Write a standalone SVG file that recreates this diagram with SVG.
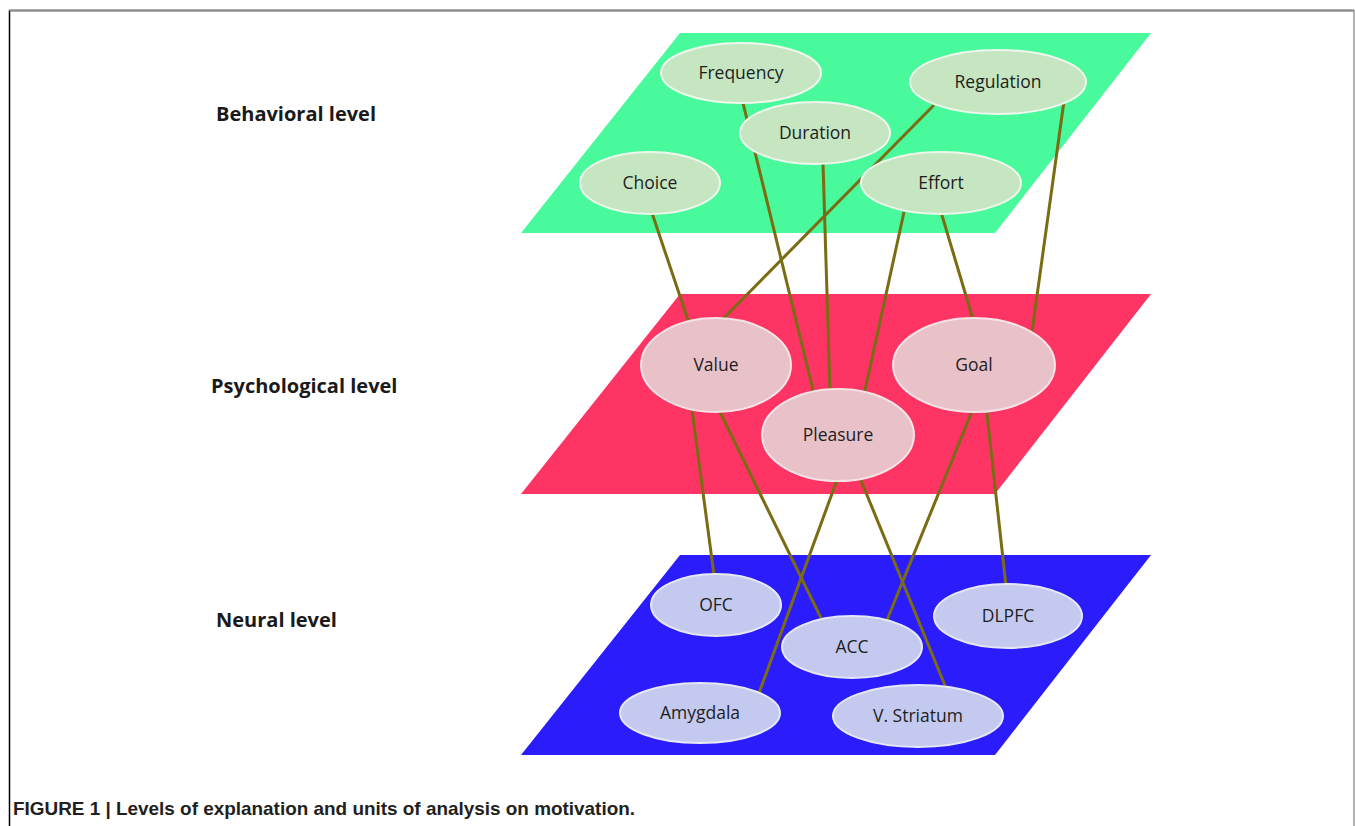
<svg xmlns="http://www.w3.org/2000/svg" width="1355" height="826" viewBox="0 0 1355 826">
<style>
.lvl{font-family:"Open Sans","Noto Sans","DejaVu Sans",sans-serif;font-weight:bold;font-size:20px;fill:#1a1a1a}
.lbl{font-family:"Open Sans","Noto Sans","DejaVu Sans",sans-serif;font-size:17.5px;fill:#1e1e1e;text-anchor:middle}
.b{fill:#c5e6c1;stroke:#eef7ec;stroke-width:2}
.p{fill:#e9c2c9;stroke:#f6e3e6;stroke-width:2}
.n{fill:#c4caef;stroke:#e6e8f8;stroke-width:2}
.c line{stroke:#7b6c14;stroke-width:3;stroke-linecap:butt}
.cap{font-family:"Liberation Sans",Arial,sans-serif;font-weight:bold;font-size:19px;fill:#231f20}
</style>
<rect width="1355" height="826" fill="#fff"/>
<path d="M9.5 826 V10.5 H1354" fill="none" stroke="#000" stroke-width="1.5"/>
<line x1="9" y1="10.5" x2="1354" y2="10.5" stroke="#888" stroke-width="1.5"/>
<line x1="1354" y1="10" x2="1354" y2="826" stroke="#999" stroke-width="1.5"/>

<polygon id="plane-behavioral" points="680,33 1151,33 995,233 521,233" fill="#48fa9b"/>
<polygon id="plane-psychological" points="680,294 1151,294 995,494 521,494" fill="#fe3465"/>
<polygon id="plane-neural" points="680,555 1151,555 995,755 521,755" fill="#2a1cfb"/>

<text class="lvl" x="216" y="121">Behavioral level</text>
<text class="lvl" x="211" y="393">Psychological level</text>
<text class="lvl" x="216" y="627">Neural level</text>

<g id="connectors" class="c">
<line x1="652" y1="213" x2="690" y2="326"/>
<line x1="743" y1="103" x2="814" y2="394"/>
<line x1="934" y1="105" x2="716" y2="326"/>
<line x1="823" y1="163" x2="830" y2="392"/>
<line x1="904" y1="212" x2="864" y2="395"/>
<line x1="941" y1="212" x2="975" y2="326"/>
<line x1="1064" y1="101" x2="1031" y2="339"/>
<line x1="692" y1="410" x2="714" y2="575"/>
<line x1="718" y1="408" x2="822" y2="620"/>
<line x1="837" y1="480" x2="759" y2="693"/>
<line x1="860" y1="478" x2="946" y2="688"/>
<line x1="975" y1="404" x2="887" y2="620"/>
<line x1="986" y1="405" x2="1006" y2="586"/>
</g>

<g id="frequency"><ellipse class="b" cx="741" cy="73" rx="80" ry="30"/><text class="lbl" x="741" y="79">Frequency</text></g>
<g id="regulation"><ellipse class="b" cx="998" cy="82" rx="88" ry="32"/><text class="lbl" x="998" y="88">Regulation</text></g>
<g id="duration"><ellipse class="b" cx="815" cy="133" rx="75" ry="31"/><text class="lbl" x="815" y="139">Duration</text></g>
<g id="choice"><ellipse class="b" cx="650" cy="183" rx="70" ry="31"/><text class="lbl" x="650" y="189">Choice</text></g>
<g id="effort"><ellipse class="b" cx="941" cy="183" rx="80" ry="31"/><text class="lbl" x="941" y="189">Effort</text></g>

<g id="value"><ellipse class="p" cx="716" cy="365" rx="75" ry="47"/><text class="lbl" x="716" y="371">Value</text></g>
<g id="goal"><ellipse class="p" cx="974" cy="365" rx="81" ry="47"/><text class="lbl" x="974" y="371">Goal</text></g>
<g id="pleasure"><ellipse class="p" cx="838" cy="435" rx="76" ry="46"/><text class="lbl" x="838" y="441">Pleasure</text></g>

<g id="ofc"><ellipse class="n" cx="716" cy="605" rx="65" ry="31"/><text class="lbl" x="716" y="611">OFC</text></g>
<g id="dlpfc"><ellipse class="n" cx="1008" cy="616" rx="74" ry="32"/><text class="lbl" x="1008" y="622">DLPFC</text></g>
<g id="acc"><ellipse class="n" cx="852" cy="647" rx="70" ry="31"/><text class="lbl" x="852" y="653">ACC</text></g>
<g id="amygdala"><ellipse class="n" cx="700" cy="713" rx="80" ry="30"/><text class="lbl" x="700" y="719">Amygdala</text></g>
<g id="vstriatum"><ellipse class="n" cx="918" cy="716" rx="85" ry="31"/><text class="lbl" x="918" y="722">V. Striatum</text></g>

<text class="cap" x="13" y="815" textLength="622" lengthAdjust="spacingAndGlyphs">FIGURE 1 | Levels of explanation and units of analysis on motivation.</text>
</svg>
